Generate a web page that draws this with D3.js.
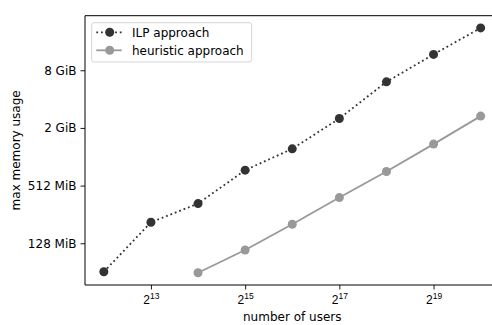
<!DOCTYPE html>
<html>
<head>
<meta charset="utf-8">
<script src="https://cdn.jsdelivr.net/npm/d3@7"></script>
<style>
  html, body { margin: 0; padding: 0; background: #fff; }
  svg { display: block; font-family: "DejaVu Sans", sans-serif; }
</style>
</head>
<body>
<svg id="chart" width="492" height="325"></svg>
<script>
// ---- data ----
const users = [4096, 8192, 16384, 32768, 65536, 131072, 262144, 524288, 1048576];
const ilpMiB = [64.5, 212, 332, 742, 1238, 2570, 6200, 11990, 22650];
const heurUsers = [16384, 32768, 65536, 131072, 262144, 524288, 1048576];
const heurMiB = [63, 109, 202, 384, 718, 1388, 2720];
const xTickValues = [8192, 32768, 131072, 524288];
const xTickExp = ["13", "15", "17", "19"];
const yTickValues = [128, 512, 2048, 8192];
const yTickLabels = ["128 MiB", "512 MiB", "2 GiB", "8 GiB"];
const seriesNames = ["ILP approach", "heuristic approach"];
const colors = ["#333333", "#999999"];

// ---- layout ----
const svg = d3.select("#chart");
const L = 85, R = 499.5, T = 15.7, B = 285;

const lx = users.map(Math.log2);
const xmin = d3.min(lx), xmax = d3.max(lx), xpad = (xmax - xmin) * 0.05;
const x = d3.scaleLog().base(2)
  .domain([Math.pow(2, xmin - xpad), Math.pow(2, xmax + xpad)])
  .range([L, R]);

const ly = ilpMiB.concat(heurMiB).map(Math.log2);
const ymin = d3.min(ly), ymax = d3.max(ly), ypad = (ymax - ymin) * 0.05;
const y = d3.scaleLog().base(2)
  .domain([Math.pow(2, ymin - ypad), Math.pow(2, ymax + ypad)])
  .range([B, T]);

// ---- axes ----
const xAxis = svg.append("g")
  .attr("transform", `translate(0,${B})`)
  .call(d3.axisBottom(x).tickValues(xTickValues).tickSizeOuter(0).tickSize(4.5).tickPadding(3).tickFormat(() => ""));
xAxis.select(".domain").remove();
xAxis.selectAll(".tick line").attr("stroke", "#000").attr("stroke-width", 0.9);
xAxis.selectAll(".tick text").each(function(d, i) {
  const t = d3.select(this);
  t.attr("font-size", 12).attr("fill", "#000").attr("dy", null).attr("y", 19);
  t.append("tspan").text("2");
  t.append("tspan").attr("font-size", 8.5).attr("dy", -5).text(xTickExp[i]);
});

const yAxis = svg.append("g")
  .attr("transform", `translate(${L},0)`)
  .call(d3.axisLeft(y).tickValues(yTickValues).tickSizeOuter(0).tickSize(4.5).tickPadding(4)
    .tickFormat((d, i) => yTickLabels[i]));
yAxis.select(".domain").remove();
yAxis.selectAll(".tick line").attr("stroke", "#000").attr("stroke-width", 0.9);
yAxis.selectAll(".tick text").attr("font-size", 12).attr("fill", "#000").attr("font-family", "DejaVu Sans");

// spines
svg.append("line").attr("x1", L).attr("x2", L).attr("y1", T).attr("y2", B).attr("stroke", "#000").attr("stroke-width", 1);
svg.append("line").attr("x1", L).attr("x2", 492).attr("y1", B).attr("y2", B).attr("stroke", "#000").attr("stroke-width", 1);
svg.append("line").attr("x1", L).attr("x2", 492).attr("y1", T).attr("y2", T).attr("stroke", "#000").attr("stroke-width", 1);

// axis labels
svg.append("text").attr("x", (L + R) / 2).attr("y", 321).attr("text-anchor", "middle")
  .attr("font-size", 12).text("number of users");
svg.append("text").attr("transform", `translate(20,${(T + B) / 2}) rotate(-90)`)
  .attr("text-anchor", "middle").attr("font-size", 12).text("max memory usage");

// ---- series ----
const line = d3.line().x(d => x(d[0])).y(d => y(d[1]));
const ilp = users.map((u, i) => [u, ilpMiB[i]]);
const heur = heurUsers.map((u, i) => [u, heurMiB[i]]);

svg.append("path").datum(ilp).attr("d", line).attr("fill", "none")
  .attr("stroke", colors[0]).attr("stroke-width", 1.8).attr("stroke-dasharray", "1.8,2.9");
svg.selectAll(".ilp").data(ilp).enter().append("circle")
  .attr("cx", d => x(d[0])).attr("cy", d => y(d[1])).attr("r", 4.5).attr("fill", colors[0]);

svg.append("path").datum(heur).attr("d", line).attr("fill", "none")
  .attr("stroke", colors[1]).attr("stroke-width", 1.8);
svg.selectAll(".heur").data(heur).enter().append("circle")
  .attr("cx", d => x(d[0])).attr("cy", d => y(d[1])).attr("r", 4.5).attr("fill", colors[1]);

// ---- legend ----
const lg = svg.append("g");
lg.append("rect").attr("x", 91.7).attr("y", 22.7).attr("width", 160).attr("height", 39.3)
  .attr("rx", 2.5).attr("fill", "#fff").attr("fill-opacity", 0.8).attr("stroke", "#d0d0d0").attr("stroke-width", 0.9);
const rows = [32.3, 50.3];
seriesNames.forEach((name, i) => {
  const ln = lg.append("line").attr("x1", 96.3).attr("x2", 121.7).attr("y1", rows[i]).attr("y2", rows[i])
    .attr("stroke", colors[i]).attr("stroke-width", 1.8);
  if (i === 0) ln.attr("stroke-dasharray", "1.8,2.9");
  lg.append("circle").attr("cx", 109.7).attr("cy", rows[i]).attr("r", 4.5).attr("fill", colors[i]);
  lg.append("text").attr("x", 132).attr("y", rows[i]).attr("dy", "0.35em").attr("font-size", 12).text(name);
});
</script>
</body>
</html>
